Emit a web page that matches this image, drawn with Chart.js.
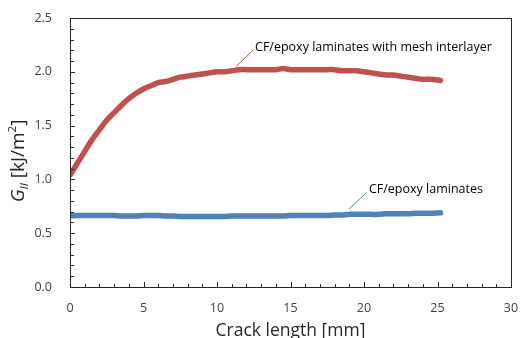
<!DOCTYPE html>
<html>
<head>
<meta charset="utf-8">
<script src="https://cdn.jsdelivr.net/npm/chart.js@4.4.1/dist/chart.umd.min.js"></script>
<style>
  html, body { margin: 0; padding: 0; background: #fff; }
  #wrap { width: 520px; height: 338px; }
</style>
</head>
<body>
<div id="wrap"><canvas id="chart" width="520" height="338"></canvas></div>
<script>
// crack length [mm]
const crackLength = [0, 0.5, 1, 1.5, 2, 2.5, 3, 3.5, 4, 4.5, 5, 5.5, 6, 6.5, 7, 7.5, 8, 8.5, 9, 9.5,
  10, 10.5, 11, 11.5, 12, 12.5, 13, 13.5, 14, 14.5, 15, 15.5, 16, 16.5, 17, 17.5, 18, 18.5, 19, 19.5,
  20, 20.5, 21, 21.5, 22, 22.5, 23, 23.5, 24, 24.5, 25.2];

// G_II [kJ/m2], CF/epoxy laminates with mesh interlayer
const meshValues = [1.04, 1.15, 1.26, 1.37, 1.46, 1.55, 1.62, 1.69, 1.75, 1.80, 1.84, 1.87, 1.90, 1.91, 1.93, 1.95, 1.96, 1.97, 1.98, 1.99,
  2.00, 2.00, 2.01, 2.02, 2.02, 2.02, 2.02, 2.02, 2.02, 2.03, 2.02, 2.02, 2.02, 2.02, 2.02, 2.02, 2.02, 2.01, 2.01, 2.01,
  2.00, 1.99, 1.98, 1.97, 1.97, 1.96, 1.95, 1.94, 1.93, 1.93, 1.92];

// G_II [kJ/m2], CF/epoxy laminates
const plainValues = [0.66, 0.665, 0.665, 0.665, 0.665, 0.665, 0.665, 0.66, 0.66, 0.66, 0.665, 0.665, 0.665, 0.66, 0.66, 0.655, 0.655, 0.655, 0.655, 0.655,
  0.655, 0.655, 0.66, 0.66, 0.66, 0.66, 0.66, 0.66, 0.66, 0.66, 0.665, 0.665, 0.665, 0.665, 0.665, 0.665, 0.67, 0.67, 0.675, 0.675,
  0.675, 0.675, 0.675, 0.68, 0.68, 0.68, 0.68, 0.685, 0.685, 0.685, 0.69];

const xTicks = [0, 5, 10, 15, 20, 25, 30];
const yTicks = [0.0, 0.5, 1.0, 1.5, 2.0, 2.5];

// labels with leader lines, in data coordinates
const callouts = [
  { text: "CF/epoxy laminates with mesh interlayer", from: [11.3, 2.05], to: [12.45, 2.2], color: "#C0504D" },
  { text: "CF/epoxy laminates", from: [18.98, 0.725], to: [20.2, 0.88], color: "#4F81BD" }
];

const FONT = "'Open Sans', sans-serif";
const AXIS = "#262626";

const toPoints = (ys) => crackLength.map((x, i) => ({ x: x, y: ys[i] }));

// box, inward ticks, y title and callouts
const decorations = {
  id: "decorations",
  afterDraw(chart) {
    const ctx = chart.ctx;
    const area = chart.chartArea;
    const xs = chart.scales.x, ys = chart.scales.y;
    ctx.save();
    ctx.strokeStyle = AXIS;
    ctx.lineWidth = 1;
    ctx.strokeRect(Math.round(area.left) + 0.5, Math.round(area.top) + 0.5,
      Math.round(area.right - area.left), Math.round(area.bottom - area.top));

    ctx.beginPath();
    for (let v = 1; v < 30; v++) {
      const px = Math.round(xs.getPixelForValue(v)) + 0.5;
      const len = v % 5 === 0 ? 5 : 3;
      ctx.moveTo(px, area.bottom);
      ctx.lineTo(px, area.bottom - len);
    }
    for (let k = 1; k < 25; k++) {
      const py = Math.round(ys.getPixelForValue(k / 10)) + 0.5;
      const len = k % 5 === 0 ? 5 : 4;
      ctx.moveTo(area.left, py);
      ctx.lineTo(area.left + len, py);
    }
    ctx.stroke();

    // y axis title: G_II [kJ/m^2]
    ctx.translate(19, 161);
    ctx.rotate(-Math.PI / 2);
    ctx.fillStyle = "#262626";
    ctx.textBaseline = "middle";
    const parts = [
      { t: "G", f: "italic 19px " + FONT, dy: 0 },
      { t: "II", f: "italic 11.5px " + FONT, dy: 6 },
      { t: " [kJ/m", f: "19px " + FONT, dy: 0 },
      { t: "2", f: "11.5px " + FONT, dy: -6 },
      { t: "]", f: "19px " + FONT, dy: 0 }
    ];
    let total = 0;
    parts.forEach(p => { ctx.font = p.f; p.w = ctx.measureText(p.t).width; total += p.w; });
    let cx = -total / 2;
    parts.forEach(p => { ctx.font = p.f; ctx.fillText(p.t, cx, p.dy); cx += p.w; });
    ctx.restore();

    ctx.save();
    callouts.forEach(c => {
      const x1 = xs.getPixelForValue(c.from[0]), y1 = ys.getPixelForValue(c.from[1]);
      const x2 = xs.getPixelForValue(c.to[0]), y2 = ys.getPixelForValue(c.to[1]);
      ctx.strokeStyle = c.color;
      ctx.lineWidth = 1;
      ctx.beginPath();
      ctx.moveTo(x1, y1);
      ctx.lineTo(x2, y2);
      ctx.stroke();
      ctx.fillStyle = "#000";
      ctx.font = "12.5px " + FONT;
      ctx.textBaseline = "middle";
      ctx.fillText(c.text, x2 + 2, y2 - 3);
    });
    ctx.restore();
  }
};

new Chart(document.getElementById("chart").getContext("2d"), {
  type: "line",
  data: {
    datasets: [
      {
        label: "CF/epoxy laminates with mesh interlayer",
        data: toPoints(meshValues),
        borderColor: "#C0504D",
        borderWidth: 5.5,
        borderCapStyle: "round",
        borderJoinStyle: "round",
        pointRadius: 0,
        tension: 0.3
      },
      {
        label: "CF/epoxy laminates",
        data: toPoints(plainValues),
        borderColor: "#4F81BD",
        borderWidth: 5.5,
        borderCapStyle: "round",
        borderJoinStyle: "round",
        pointRadius: 0,
        tension: 0.3
      }
    ]
  },
  options: {
    responsive: false,
    animation: false,
    layout: { padding: { top: 18, right: 9, left: 0, bottom: 0 } },
    plugins: {
      legend: { display: false },
      tooltip: { enabled: false }
    },
    scales: {
      x: {
        type: "linear",
        min: 0,
        max: 30,
        afterBuildTicks: (scale) => { scale.ticks = xTicks.map(v => ({ value: v })); },
        afterFit: (scale) => { scale.height = 51; scale.paddingLeft = 0; scale.paddingRight = 0; },
        grid: { display: false },
        border: { display: false },
        ticks: { color: "#404040", font: { family: FONT, size: 12.5 }, padding: 6, maxRotation: 0 },
        title: {
          display: true,
          text: "Crack length [mm]",
          color: "#262626",
          font: { family: FONT, size: 17.5 },
          padding: { top: 0, bottom: -4 }
        }
      },
      y: {
        type: "linear",
        min: 0,
        max: 2.5,
        afterBuildTicks: (scale) => { scale.ticks = yTicks.map(v => ({ value: v })); },
        afterFit: (scale) => { scale.width = 70; scale.paddingTop = 0; scale.paddingBottom = 0; },
        grid: { display: false },
        border: { display: false },
        ticks: {
          color: "#404040",
          font: { family: FONT, size: 12.5 },
          padding: 10,
          callback: (v) => Number(v).toFixed(1)
        }
      }
    }
  },
  plugins: [decorations]
});
</script>
</body>
</html>
